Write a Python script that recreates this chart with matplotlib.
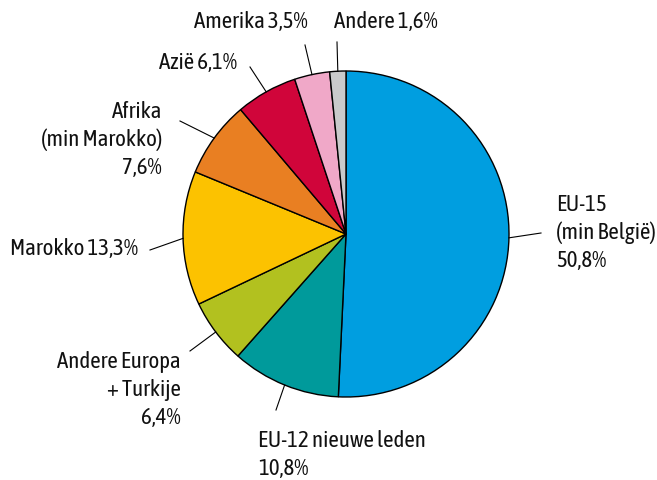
import matplotlib
matplotlib.use("Agg")
import matplotlib.pyplot as plt
from matplotlib import font_manager
import numpy as np

# Data
labels = ["EU-15\n(min België)\n50,8%", "EU-12 nieuwe leden\n10,8%",
          "Andere Europa\n+ Turkije\n6,4%", "Marokko 13,3%",
          "Afrika\n(min Marokko)\n7,6%", "Azië 6,1%", "Amerika 3,5%", "Andere 1,6%"]
shares = [50.8, 10.8, 6.4, 13.3, 7.6, 6.1, 3.5, 1.6]
colors = ["#009ee0", "#009a9b", "#b2c11f", "#fcc200", "#e97f22",
          "#d0053a", "#f0a8c8", "#c9cacb"]

# layout in pixels (figure is 657x480), pie centre and radius
cx, cy, r = 346, 234, 163
# outer end of the leader lines and text anchors (pixels from top-left)
leader_end = [(541, 233), (276, 410), (190, 351), (150, 250),
              (180, 121), (250, 67), (305, 45), (337, 42)]
text_pos = [(556, 233, "left"), (258, 455, "left"), (181, 390, "right"),
            (138, 249, "right"), (162, 140, "right"), (237, 63, "right"),
            (308, 22, "right"), (334, 22, "left")]

installed = {f.name for f in font_manager.fontManager.ttflist}
wanted = ["Asap Condensed", "PT Sans Narrow", "Fira Sans Condensed",
          "Roboto Condensed", "Archivo Narrow", "Barlow Condensed"]
family = [f for f in wanted if f in installed][:1] + ["DejaVu Sans"]
plt.rcParams["font.family"] = family


def to_data(px, py):
    return (px - cx) / r, (cy - py) / r


fig = plt.figure(figsize=(6.57, 4.8), dpi=100)
ax = fig.add_axes([0, 0, 1, 1])
ax.pie(shares, colors=colors, startangle=90, counterclock=False, radius=1,
       wedgeprops=dict(edgecolor="black", linewidth=1.0), normalize=True)
ax.set_xlim(-cx / r, (657 - cx) / r)
ax.set_ylim(-(480 - cy) / r, cy / r)
ax.set_aspect("equal")
ax.axis("off")

total = sum(shares)
cum = 0
for lab, s, end, tp in zip(labels, shares, leader_end, text_pos):
    mid = (cum + s / 2) / total
    cum += s
    ang = np.deg2rad(90 - 360 * mid)
    x0, y0 = np.cos(ang), np.sin(ang)
    x1, y1 = to_data(*end)
    ax.plot([x0, x1], [y0, y1], color="black", linewidth=0.8)
    tx, ty = to_data(tp[0], tp[1])
    ax.text(tx, ty, lab, ha=tp[2], va="center", fontsize=16.5,
            linespacing=1.35, color="#111111", multialignment=tp[2])

fig.savefig("out.png", dpi=100)
